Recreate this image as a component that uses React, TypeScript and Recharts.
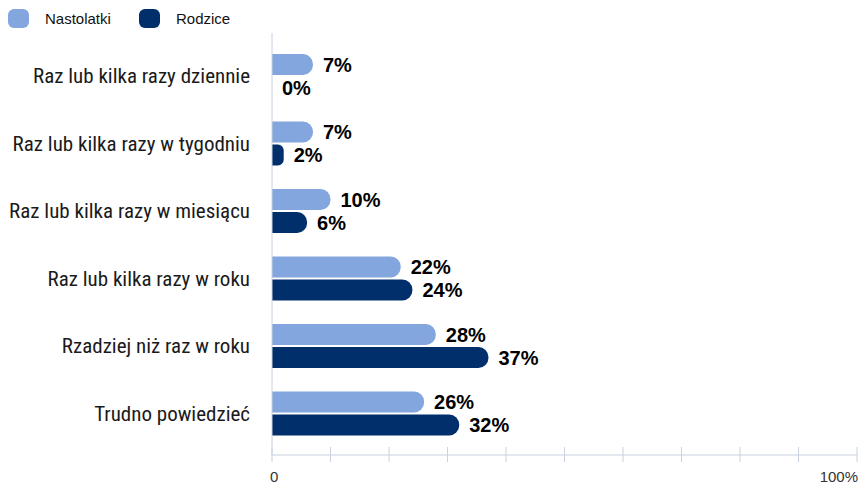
import React from "react";
import { BarChart, Bar, XAxis, YAxis, LabelList } from "recharts";

// dane (w %)
const categories = [
  "Raz lub kilka razy dziennie",
  "Raz lub kilka razy w tygodniu",
  "Raz lub kilka razy w miesiącu",
  "Raz lub kilka razy w roku",
  "Rzadziej niż raz w roku",
  "Trudno powiedzieć",
];
const nastolatki = [7, 7, 10, 22, 28, 26];
const rodzice = [0, 2, 6, 24, 37, 32];
const xTicks = [0, 10, 20, 30, 40, 50, 60, 70, 80, 90, 100];

const series = [
  { key: "nastolatki", name: "Nastolatki", color: "#82A6DD" },
  { key: "rodzice", name: "Rodzice", color: "#002F6C" },
];

const data = categories.map((name, i) => ({
  name,
  nastolatki: nastolatki[i],
  rodzice: rodzice[i],
}));

const AXIS = "#C9D2DE";

function XTick(props: any) {
  const { x, y, payload } = props;
  const v = payload.value;
  let label = "";
  let anchor: "start" | "end" = "start";
  if (v === 0) {
    label = "0";
  } else if (v === 100) {
    label = "100%";
    anchor = "end";
  }
  return (
    <g>
      <line x1={x} x2={x} y1={y - 8} y2={y + 7} stroke={AXIS} strokeWidth={1} />
      {label && (
        <text
          x={v === 0 ? x - 2 : x + 1}
          y={y + 27}
          textAnchor={anchor}
          fontSize={15}
          fill="#333"
          fontFamily="'Liberation Sans', Arial, sans-serif"
        >
          {label}
        </text>
      )}
    </g>
  );
}

export default function App() {
  return (
    <div style={{ position: "absolute", left: 0, top: 0, width: 868, height: 485, background: "white" }}>
      <div
        style={{
          position: "absolute",
          left: 8,
          top: 9,
          display: "flex",
          fontFamily: "'Liberation Sans', Arial, sans-serif",
          fontSize: 15,
          color: "#111",
          zIndex: 2,
        }}
      >
        {series.map((s) => (
          <div key={s.key} style={{ display: "flex", alignItems: "center", width: 131 }}>
            <span
              style={{
                display: "inline-block",
                width: 21,
                height: 19,
                borderRadius: 6,
                background: s.color,
                marginRight: 16,
              }}
            />
            <span>{s.name}</span>
          </div>
        ))}
      </div>
      <BarChart
        width={868}
        height={485}
        data={data}
        layout="vertical"
        margin={{ top: 33, right: 11, bottom: 0, left: 0 }}
        barSize={21}
        barGap={2}
      >
        <XAxis
          type="number"
          domain={[0, 100]}
          ticks={xTicks}
          height={30}
          tickSize={0}
          tickMargin={0}
          tickLine={false}
          axisLine={{ stroke: AXIS }}
          tick={<XTick />}
          interval={0}
        />
        <YAxis
          type="category"
          dataKey="name"
          width={272}
          tickSize={0}
          tickMargin={22}
          tickLine={false}
          axisLine={{ stroke: AXIS }}
          padding={{ top: 9, bottom: 8 }}
          tick={{
            fontSize: 21,
            fill: "#1a1a1a",
            fontFamily: "'Liberation Sans Narrow', 'Roboto Condensed', sans-serif",
          }}
          interval={0}
        />
        {series.map((s) => (
          <Bar
            key={s.key}
            dataKey={s.key}
            name={s.name}
            fill={s.color}
            radius={[0, 10, 10, 0]}
            minPointSize={0.001}
            isAnimationActive={false}
          >
            <LabelList
              dataKey={s.key}
              position="right"
              offset={10}
              formatter={(v: any) => `${v}%`}
              style={{
                fontSize: 20,
                fontWeight: 700,
                fill: "#000",
                fontFamily: "'Liberation Sans', Arial, sans-serif",
              }}
            />
          </Bar>
        ))}
      </BarChart>
    </div>
  );
}
